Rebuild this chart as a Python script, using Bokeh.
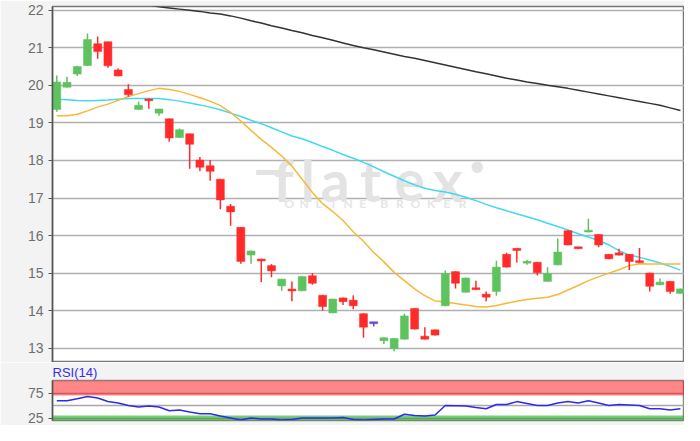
from bokeh.plotting import figure
from bokeh.models import ColumnDataSource, FixedTicker, Range1d, Label, Span, BoxAnnotation
from bokeh.layouts import column
from bokeh.embed import file_html
from bokeh.resources import INLINE

# ---------------- data ----------------
opens = [19.36, 19.95, 20.30, 20.53, 21.11, 21.16, 20.41, 19.89, 19.36, 19.64,
         19.26, 19.11, 18.61, 18.71, 18.01, 17.86, 17.50, 16.78, 16.22, 15.48,
         15.37, 15.20, 14.66, 14.56, 14.53, 14.93, 14.41, 13.94, 14.34, 14.28,
         13.92, 13.68, 13.20, 12.99, 13.24, 14.06, 13.32, 13.49, 14.13, 15.04,
         14.49, 14.61, 14.44, 14.51, 15.50, 15.66, 15.28, 15.29, 14.78, 15.22,
         16.13, 15.70, 16.10, 16.03, 15.50, 15.54, 15.50, 15.33, 15.00, 14.69,
         14.78, 14.46]
highs = [20.26, 20.23, 20.52, 21.38, 21.30, 21.17, 20.45, 20.03, 19.57, 19.65,
         19.38, 19.12, 18.85, 18.72, 18.09, 18.01, 17.51, 16.84, 16.23, 15.60,
         15.38, 15.24, 14.85, 14.78, 14.92, 15.00, 14.42, 14.32, 14.35, 14.41,
         13.93, 13.68, 13.29, 13.27, 13.92, 14.07, 13.56, 13.50, 15.07, 15.05,
         14.88, 14.80, 14.51, 15.33, 15.54, 15.67, 15.35, 15.30, 15.16, 15.92,
         16.14, 15.70, 16.45, 16.04, 15.51, 15.65, 15.51, 15.67, 15.01, 14.86,
         14.79, 14.59]
lows = [19.30, 19.94, 20.25, 20.52, 20.71, 20.47, 20.24, 19.70, 19.35, 19.38,
        19.19, 18.50, 18.60, 17.78, 17.71, 17.46, 16.70, 16.26, 15.25, 15.25,
        14.76, 14.89, 14.53, 14.25, 14.52, 14.69, 14.00, 13.93, 14.15, 14.04,
        13.28, 13.58, 13.11, 12.92, 13.23, 13.50, 13.23, 13.34, 14.12, 14.59,
        14.48, 14.55, 14.25, 14.40, 15.15, 15.28, 15.22, 14.94, 14.77, 15.21,
        15.74, 15.64, 16.09, 15.69, 15.37, 15.47, 15.08, 15.27, 14.51, 14.68,
        14.45, 14.45]
closes = [20.09, 20.08, 20.50, 21.22, 20.90, 20.52, 20.25, 19.75, 19.47, 19.59,
          19.37, 18.60, 18.82, 18.43, 17.82, 17.71, 16.95, 16.63, 15.31, 15.59,
          15.33, 15.06, 14.84, 14.54, 14.91, 14.73, 14.11, 14.31, 14.24, 14.13,
          13.56, 13.68, 13.28, 13.26, 13.86, 13.51, 13.24, 13.35, 14.99, 14.73,
          14.87, 14.56, 14.36, 15.16, 15.16, 15.60, 15.30, 15.01, 14.99, 15.56,
          15.75, 15.65, 16.14, 15.75, 15.38, 15.48, 15.31, 15.28, 14.65, 14.76,
          14.51, 14.58]
ma_short = [19.19, 19.19, 19.23, 19.32, 19.42, 19.50, 19.60, 19.70, 19.78, 19.86,
            19.92, 19.89, 19.84, 19.76, 19.67, 19.58, 19.46, 19.28, 19.05, 18.80,
            18.56, 18.35, 18.12, 17.85, 17.50, 17.15, 16.85, 16.64, 16.40, 16.10,
            15.85, 15.55, 15.30, 15.02, 14.80, 14.58, 14.40, 14.26, 14.23, 14.19,
            14.15, 14.11, 14.10, 14.14, 14.20, 14.25, 14.30, 14.33, 14.36, 14.43,
            14.55, 14.67, 14.80, 14.90, 15.00, 15.09, 15.20, 15.25, 15.24, 15.24,
            15.24, 15.24]
ma_mid = [19.63, 19.62, 19.60, 19.59, 19.60, 19.61, 19.63, 19.65, 19.65, 19.65,
          19.65, 19.62, 19.58, 19.53, 19.48, 19.42, 19.35, 19.26, 19.17, 19.07,
          18.98, 18.87, 18.76, 18.65, 18.58, 18.48, 18.37, 18.27, 18.16, 18.06,
          17.95, 17.83, 17.70, 17.58, 17.46, 17.35, 17.26, 17.20, 17.16, 17.10,
          17.02, 16.93, 16.83, 16.74, 16.66, 16.58, 16.50, 16.42, 16.33, 16.24,
          16.15, 16.05, 15.96, 15.87, 15.75, 15.60, 15.48, 15.42, 15.35, 15.27,
          15.18, 15.08]
ma_long = [22.52, 22.48, 22.44, 22.40, 22.36, 22.32, 22.28, 22.24, 22.19, 22.14,
           22.09, 22.06, 22.03, 22.00, 21.97, 21.93, 21.90, 21.85, 21.79, 21.72,
           21.66, 21.59, 21.53, 21.46, 21.40, 21.33, 21.27, 21.20, 21.13, 21.06,
           21.00, 20.95, 20.89, 20.83, 20.77, 20.72, 20.66, 20.60, 20.54, 20.48,
           20.42, 20.36, 20.31, 20.25, 20.19, 20.14, 20.09, 20.05, 20.00, 19.96,
           19.92, 19.87, 19.82, 19.77, 19.72, 19.67, 19.62, 19.57, 19.52, 19.47,
           19.40, 19.33]
rsi = [59.5, 59.5, 63.5, 68, 65, 58, 55, 50, 47, 49,
       47, 39.5, 41, 37, 33.6, 33.6, 29, 25, 21, 25,
       23, 23, 21, 22, 25, 25, 25, 25, 26, 22,
       21, 22, 23, 23, 32.5, 30, 29, 31, 50, 49.5,
       49, 46, 43.5, 52, 52, 57.8, 54, 50, 50, 55,
       57.8, 55, 59.5, 55, 50, 52, 51, 50, 43.5, 43.5,
       41, 43.5]
price_ticks = [13, 14, 15, 16, 17, 18, 19, 20, 21, 22]
rsi_ticks = [25, 75]
rsi_mid = 50
rsi_over = (70, 100)
rsi_under = (0, 30)

# ---------------- styling ----------------
GREEN = "#5ec25e"
RED = "#ff2b2b"
FLAT = "#6a40d8"
PAGE_BG = "#f3f3f3"
FONT = "Liberation Sans"

n = len(opens)
idx = list(range(n))
cols, tops, bots = [], [], []
for o, c in zip(opens, closes):
    cols.append(GREEN if c > o else (RED if c < o else FLAT))
    t, b = max(o, c), min(o, c)
    if t - b < 0.05:
        m = (t + b) / 2
        t, b = m + 0.025, m - 0.025
    tops.append(t)
    bots.append(b)

src = ColumnDataSource(dict(x=idx, o=opens, h=highs, l=lows, c=closes,
                            top=tops, bot=bots, col=cols,
                            ma1=ma_short, ma2=ma_mid, ma3=ma_long, rsi=rsi))

x_range = Range1d(-0.42, n - 0.6)


def style_axis(fig, ticks):
    fig.background_fill_color = "white"
    fig.border_fill_color = PAGE_BG
    fig.outline_line_width = 1.5
    fig.xgrid.visible = False
    fig.ygrid.grid_line_width = 1.5
    ax = fig.yaxis
    ax.ticker = FixedTicker(ticks=ticks)
    ax.major_label_text_font = FONT
    ax.major_label_text_font_size = "14px"
    ax.major_label_text_color = "#6e6e6e"
    ax.axis_line_color = "#555555"
    ax.axis_line_width = 1.5
    ax.major_tick_line_color = "#555555"
    ax.major_tick_out = 4
    ax.major_tick_in = 0
    ax.minor_tick_line_color = None
    ax.major_label_standoff = 5


p = figure(width=684, height=362, x_range=x_range, y_range=Range1d(12.62, 22.1),
           output_backend="svg", toolbar_location=None, x_axis_location=None,
           min_border_left=52, min_border_right=0, min_border_top=6, min_border_bottom=0)
style_axis(p, price_ticks)
p.outline_line_color = "#777777"
p.ygrid.grid_line_color = "#b0b0b0"

# watermark (decoration), positioned via reference pixel helpers
def xi(px):
    return (px - 57.3) / 10.45


def yp(py):
    return 22 - (py - 4) / 39.5


wm_color = "#e3e3e3"
p.add_layout(Label(x=xi(273), y=yp(170), text="\u2013", text_font="Lato",
                   text_font_size="57px", text_font_style="bold",
                   text_color=wm_color, text_align="center",
                   text_baseline="alphabetic", level="underlay"))
for ch, px in [("f", 289), ("l", 314), ("a", 342), ("t", 378), ("e", 418), ("x", 457)]:
    p.add_layout(Label(x=xi(px), y=yp(183), text=ch, text_font="Lato",
                       text_font_size="57px", text_font_style="bold",
                       text_color=wm_color, text_align="center",
                       text_baseline="alphabetic", level="underlay"))
p.add_layout(Label(x=xi(487), y=yp(166), text="\u2022", text_font="Lato",
                   text_font_size="30px", text_color=wm_color, text_align="center",
                   text_baseline="middle", level="underlay"))
for i, ch in enumerate("ONLINE"):
    p.add_layout(Label(x=xi(295 + 15 * i), y=yp(207), text=ch, text_font="Lato",
                       text_font_size="12px", text_font_style="bold",
                       text_color="#e6e6e6", text_align="center",
                       text_baseline="middle", level="underlay"))
for i, ch in enumerate("BROKER"):
    p.add_layout(Label(x=xi(392 + 16 * i), y=yp(207), text=ch, text_font="Lato",
                       text_font_size="12px", text_font_style="bold",
                       text_color="#e6e6e6", text_align="center",
                       text_baseline="middle", level="underlay"))

# moving averages
p.line("x", "ma3", source=src, line_color="#333333", line_width=1.5)
p.line("x", "ma2", source=src, line_color="#3fd9f2", line_width=1.5)
p.line("x", "ma1", source=src, line_color="#f7b83a", line_width=1.5)

# candles
p.segment(x0="x", y0="l", x1="x", y1="h", source=src, line_color="col", line_width=1.5)
p.vbar(x="x", top="top", bottom="bot", width=0.78, source=src,
       fill_color="col", line_color="col", line_width=0.5)

# ---------------- RSI panel ----------------
p2 = figure(width=684, height=63, x_range=x_range, y_range=Range1d(20, 100),
            output_backend="svg", toolbar_location=None, x_axis_location=None,
            title="RSI(14)",
            min_border_left=52, min_border_right=0, min_border_top=17, min_border_bottom=5)
style_axis(p2, rsi_ticks)
p2.title.text_font = FONT
p2.title.text_font_size = "13px"
p2.title.text_font_style = "normal"
p2.title.text_color = "#2f2ff5"
p2.title.align = "left"
p2.title.standoff = 1
p2.title.offset = 0
p2.outline_line_color = "#888888"
p2.ygrid.grid_line_color = "#a8a8a8"
p2.add_layout(Span(location=rsi_mid, dimension="width", line_color="#a8a8a8",
                   line_width=1.5, level="underlay"))
p2.add_layout(BoxAnnotation(bottom=rsi_over[0], top=rsi_over[1], fill_color="#ff0000",
                            fill_alpha=0.47, line_color=None, level="underlay"))
p2.add_layout(BoxAnnotation(bottom=rsi_under[0], top=rsi_under[1], fill_color="#22aa22",
                            fill_alpha=0.6, line_color=None, level="underlay"))
p2.line("x", "rsi", source=src, line_color="#2b2bef", line_width=1.5)

layout = column(p, p2, spacing=0)
open("out.html", "w").write(file_html(layout, INLINE))
